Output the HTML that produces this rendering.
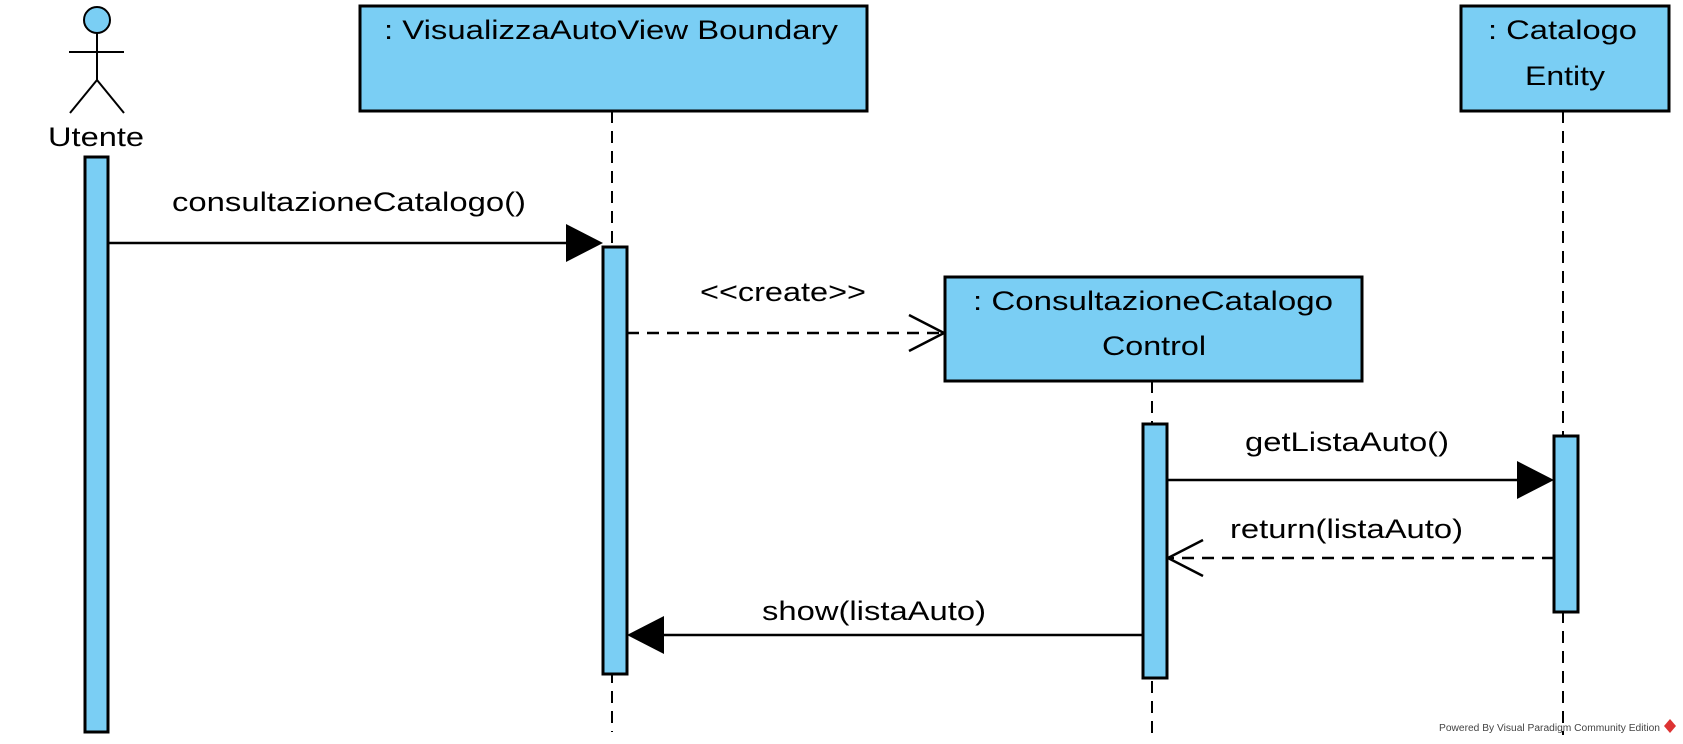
<!DOCTYPE html>
<html><head><meta charset="utf-8"><style>body{margin:0;background:#fff}svg{display:block}</style></head><body>
<svg width="1683" height="744" viewBox="0 0 1683 744" xmlns="http://www.w3.org/2000/svg" font-family="Liberation Sans, Arial, sans-serif" font-size="27" fill="#000">
<g stroke="#000" stroke-width="2" stroke-dasharray="12,8" fill="none">
<line x1="612" y1="111" x2="612" y2="732"/>
<line x1="1152" y1="381" x2="1152" y2="740"/>
<line x1="1563" y1="111" x2="1563" y2="735"/>
</g>
<!-- actor -->
<g stroke="#000" stroke-width="2" fill="none">
<circle cx="97" cy="20" r="13" fill="#7acef4"/>
<line x1="97" y1="33" x2="97" y2="80"/>
<line x1="69" y1="52" x2="124" y2="52"/>
<line x1="97" y1="80" x2="70" y2="113"/>
<line x1="97" y1="80" x2="124" y2="113"/>
</g>
<text x="96" y="146" text-anchor="middle" textLength="96" lengthAdjust="spacingAndGlyphs">Utente</text>
<g fill="#7acef4" stroke="#000" stroke-width="3">
<rect x="360" y="6" width="507" height="105"/>
<rect x="1461" y="6" width="208" height="105"/>
<rect x="945" y="277" width="417" height="104"/>
<rect x="85" y="157" width="23" height="575"/>
<rect x="603" y="247" width="24" height="427"/>
<rect x="1143" y="424" width="24" height="254"/>
<rect x="1554" y="436" width="24" height="176"/>
</g>
<text x="384" y="39" textLength="454" lengthAdjust="spacingAndGlyphs">: VisualizzaAutoView Boundary</text>
<text x="1488" y="39" textLength="149" lengthAdjust="spacingAndGlyphs">: Catalogo</text>
<text x="1525" y="85" textLength="80" lengthAdjust="spacingAndGlyphs">Entity</text>
<text x="973" y="310" textLength="360" lengthAdjust="spacingAndGlyphs">: ConsultazioneCatalogo</text>
<text x="1102" y="355" textLength="104" lengthAdjust="spacingAndGlyphs">Control</text>
<!-- messages -->
<g stroke="#000" stroke-width="2.5" fill="none">
<line x1="108" y1="243" x2="570" y2="243"/>
<line x1="627" y1="333" x2="942" y2="333" stroke-dasharray="12,8"/>
<polyline points="909,315 944,333 909,351"/>
<line x1="1167" y1="480" x2="1520" y2="480"/>
<line x1="1554" y1="558" x2="1168" y2="558" stroke-dasharray="12,8"/>
<polyline points="1203,540 1168,558 1203,576"/>
<line x1="1143" y1="635" x2="660" y2="635"/>
</g>
<polygon points="566,224 603,243 566,262"/>
<polygon points="1517,461 1554,480 1517,499"/>
<polygon points="664,616 627,635 664,654"/>
<text x="172" y="211" textLength="354" lengthAdjust="spacingAndGlyphs">consultazioneCatalogo()</text>
<text x="700" y="301" textLength="166" lengthAdjust="spacingAndGlyphs">&lt;&lt;create&gt;&gt;</text>
<text x="1245" y="451" textLength="204" lengthAdjust="spacingAndGlyphs">getListaAuto()</text>
<text x="1230" y="538" textLength="233" lengthAdjust="spacingAndGlyphs">return(listaAuto)</text>
<text x="762" y="620" textLength="224" lengthAdjust="spacingAndGlyphs">show(listaAuto)</text>
<text x="1439" y="731" font-size="10" fill="#444" textLength="221" lengthAdjust="spacingAndGlyphs">Powered By Visual Paradigm Community Edition</text>
<polygon points="1670,719 1676,726 1670,733 1664,726" fill="#d33"/>
</svg>
</body></html>
